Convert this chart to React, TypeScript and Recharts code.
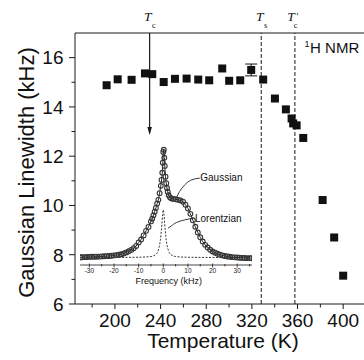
import React from 'react';
import {
  ComposedChart,
  Scatter,
  Line,
  XAxis,
  YAxis,
  ReferenceLine,
  ReferenceDot,
  ErrorBar,
  Label,
} from 'recharts';

const FONT = '"Liberation Sans", Arial, sans-serif';
const SERIF = '"Liberation Serif", "Times New Roman", serif';
const INK = '#1a1a1a';

// ---- main panel data ----
const temperatures = [
  192.7, 202.4, 214.6, 226.3, 232.7, 242.7, 252.6, 262.8, 273.0, 282.6, 294.0, 300.1,
  309.8, 319.4, 329.9, 340.2, 349.8, 354.8, 356.2, 359.2, 365.0, 382.0, 392.1, 400.0,
];
const linewidths = [
  14.88, 15.12, 15.1, 15.36, 15.33, 15.01, 15.14, 15.15, 15.11, 15.08, 15.56, 15.06,
  15.08, 15.5, 15.11, 14.34, 13.9, 13.53, 13.33, 13.25, 12.74, 10.22, 8.7, 7.15,
];
const linewidthErrors = [
  0, 0, 0, 0, 0, 0, 0, 0, 0, 0, 0, 0, 0, 0.24, 0, 0, 0, 0, 0, 0, 0, 0, 0, 0,
];
const xTickValues = [180, 200, 220, 240, 260, 280, 300, 320, 340, 360, 380, 400];
const xTickLabels = [200, 240, 280, 320, 360, 400];
const yTickValues = [6, 7, 8, 9, 10, 11, 12, 13, 14, 15, 16];
const yTickLabels = [6, 8, 10, 12, 14, 16];
const xDomain = [165, 420];
const yDomain = [6, 17];
const transitionTc = 230.4;
const transitionTs = 328.2;
const transitionTcPrime = 357.7;
const tcArrowEnd = 12.86;
const nmrLabelPos = { temp: 366.2, width: 16.19 };

// ---- inset spectrum data ----
const spectrumFreq = [
  -33.5, -33, -32, -31, -30, -29, -28, -27, -26, -25, -24, -23, -22, -21, -20, -19, -18, -17,
  -16, -15, -14, -13, -12, -11, -10, -9, -8, -7, -6, -5, -4.5, -4, -3.5, -3, -2.5, -2, -1.5,
  -1, -0.7, -0.4, -0.2, 0, 0.2, 0.4, 0.6, 0.9, 1.2, 1.5, 1.8, 2.2, 2.7, 3.2, 4, 5, 6, 7, 8, 9,
  10, 11, 12, 13, 14, 15, 16, 17, 18, 19, 20, 21, 22, 23, 24, 25, 26, 27, 28, 29, 30, 31, 32,
  33, 34, 35, 35.8,
];
const spectrumIntensity = [
  0.002, 0.002, 0.003, 0.004, 0.005, 0.006, 0.007, 0.007, 0.008, 0.01, 0.011, 0.012, 0.014,
  0.016, 0.019, 0.022, 0.025, 0.03, 0.037, 0.047, 0.057, 0.07, 0.086, 0.107, 0.14, 0.167,
  0.205, 0.247, 0.284, 0.335, 0.36, 0.391, 0.425, 0.46, 0.5, 0.535, 0.597, 0.665, 0.72, 0.786,
  0.88, 0.98, 1.0, 0.926, 0.85, 0.75, 0.69, 0.645, 0.61, 0.577, 0.558, 0.549, 0.544, 0.54,
  0.535, 0.53, 0.518, 0.49, 0.455, 0.405, 0.345, 0.285, 0.232, 0.187, 0.148, 0.117, 0.092,
  0.072, 0.056, 0.044, 0.034, 0.026, 0.019, 0.014, 0.009, 0.006, 0.003, 0.001, -0.001, -0.002,
  -0.004, -0.005, -0.006, -0.006, -0.007,
];
const lorentzFreq = [-33.8, -20, -10, -5, -3, -2, -1.5, -1, -0.6, -0.3, 0, 0.3, 0.6, 1, 1.5, 2, 3, 5, 10, 20, 36];
const lorentzIntensity = [
  0, 0, 0.002, 0.009, 0.028, 0.07, 0.116, 0.2, 0.302, 0.395, 0.442, 0.395, 0.302, 0.2, 0.116,
  0.07, 0.028, 0.009, 0.002, 0, 0,
];
const gaussLeaderFreq = [5.3, 6.6, 8.7, 11.4, 14.8];
const gaussLeaderIntensity = [0.551, 0.612, 0.674, 0.72, 0.737];
const lorLeaderFreq = [1.9, 3.25, 5.3, 8.7, 12.1];
const lorLeaderIntensity = [0.272, 0.293, 0.324, 0.349, 0.365];
const gaussTextPos = { f: 15.0, i: 0.707 };
const lorTextPos = { f: 12.85, i: 0.325 };
const insetTickValues = [-30, -25, -20, -15, -10, -5, 0, 5, 10, 15, 20, 25, 30, 35];
const insetTickLabels = [-30, -20, -10, 0, 10, 20, 30];
const insetXDomain = [-33.8, 36];
const insetYDomain = [-0.07, 1.1];

const mainData = temperatures.map((t, i) => ({ temp: t, width: linewidths[i], err: linewidthErrors[i] }));
const spectrum = spectrumFreq.map((f, i) => ({ f, i: spectrumIntensity[i] }));
const lorentz = lorentzFreq.map((f, i) => ({ f, i: lorentzIntensity[i] }));
const gaussLeader = gaussLeaderFreq.map((f, i) => ({ f, i: gaussLeaderIntensity[i] }));
const lorLeader = lorLeaderFreq.map((f, i) => ({ f, i: lorLeaderIntensity[i] }));

const MainXTick = (props: any) => {
  const { x, y, payload } = props;
  const v = payload.value;
  const major = xTickLabels.includes(v);
  return (
    <g>
      <line x1={x} x2={x} y1={y} y2={y + (major ? 5 : 3.5)} stroke={INK} strokeWidth={1} />
      {major && (
        <text x={x} y={y + 22.7} textAnchor="middle" fontSize={19} fontFamily={FONT} fill="#111">
          {v}
        </text>
      )}
    </g>
  );
};

const MainYTick = (props: any) => {
  const { x, y, payload } = props;
  const v = payload.value;
  const major = yTickLabels.includes(v);
  return (
    <g>
      <line x1={x - (major ? 6 : 3.5)} x2={x} y1={y} y2={y} stroke={INK} strokeWidth={1} />
      {major && (
        <text x={x - 11.5} y={y} dy="0.36em" textAnchor="end" fontSize={19} fontFamily={FONT} fill="#111">
          {v}
        </text>
      )}
    </g>
  );
};

const InsetTick = (props: any) => {
  const { x, y, payload } = props;
  const v = payload.value;
  const major = insetTickLabels.includes(v);
  return (
    <g>
      <line x1={x} x2={x} y1={y - (major ? 1.5 : 1)} y2={y + (major ? 2.5 : 1.5)} stroke={INK} strokeWidth={0.8} />
      {major && (
        <text x={x} y={y + 8.3} textAnchor="middle" fontSize={6.5} fontFamily={FONT} fill="#222">
          {v}
        </text>
      )}
    </g>
  );
};

const SquareShape = (p: any) => (
  <rect x={p.cx - 4} y={p.cy - 4} width={8} height={8} fill="#111" />
);

// T label drawn as a single text with tspans: italic T, optional prime, upright subscript
const makeTLabel = (sub: string, tOff: number, subDx: number, prime?: boolean) => (p: any) => (
  <text x={p.cx + tOff} y={p.cy - 12} fontFamily={SERIF} fill="#111">
    <tspan fontSize={13.5} fontStyle="italic">
      T
    </tspan>
    {prime ? (
      <>
        <tspan fontSize={10} fontStyle="italic" dx={1} dy={-1.5}>
          '
        </tspan>
        <tspan fontSize={8.5} dx={-4} dy={8.5}>
          {sub}
        </tspan>
      </>
    ) : (
      <tspan fontSize={8.5} dx={subDx} dy={7}>
        {sub}
      </tspan>
    )}
  </text>
);

const ArrowHead = (p: any) => (
  <path d={`M${p.cx - 2.3},${p.cy - 8} L${p.cx + 2.3},${p.cy - 8} L${p.cx},${p.cy} Z`} fill={INK} />
);

const NmrLabel = (p: any) => (
  <text x={p.cx} y={p.cy} fontFamily={FONT} fill="#111">
    <tspan fontSize={9} dy={-6}>
      1
    </tspan>
    <tspan fontSize={15} dy={6} dx={0.5}>
      H NMR
    </tspan>
  </text>
);

const yTitle = (props: any) => {
  const vb = props.viewBox;
  return (
    <text
      transform={`translate(${vb.x + 34},${vb.y + vb.height / 2 + 4}) rotate(-90)`}
      textAnchor="middle"
      fontSize={22}
      fontFamily={FONT}
      fill="#111"
    >
      Gaussian Linewidth (kHz)
    </text>
  );
};

const xTitle = (props: any) => {
  const vb = props.viewBox;
  return (
    <text x={vb.x + vb.width / 2 + 2.5} y={vb.y + 44} textAnchor="middle" fontSize={21} fontFamily={FONT} fill="#111">
      Temperature (K)
    </text>
  );
};

const insetXTitle = (props: any) => {
  const vb = props.viewBox;
  return (
    <text x={vb.x + vb.width / 2 + 2.7} y={vb.y + 19} textAnchor="middle" fontSize={9} fontFamily={FONT} fill="#111">
      Frequency (kHz)
    </text>
  );
};

const textShape = (label: string) => (p: any) => (
  <text x={p.cx} y={p.cy} fontSize={10} fontFamily={FONT} fill="#111">
    {label}
  </text>
);

const SpectrumDot = (p: any) => (
  <circle key={`d${p.index}`} cx={p.cx} cy={p.cy} r={2.4} fill="none" stroke="#333" strokeWidth={1.1} />
);

export default function App() {
  return (
    <div
      style={{
        position: 'absolute',
        left: 0,
        top: 0,
        width: 364,
        height: 360,
        overflow: 'hidden',
        background: '#fff',
        fontFamily: FONT,
      }}
    >
      <ComposedChart width={370} height={360} data={mainData} margin={{ top: 33, right: 4, left: 0, bottom: 0 }}>
        <XAxis
          type="number"
          dataKey="temp"
          domain={xDomain}
          ticks={xTickValues}
          interval={0}
          allowDataOverflow
          tick={<MainXTick />}
          tickLine={false}
          tickSize={0}
          tickMargin={0}
          axisLine={{ stroke: INK, strokeWidth: 1 }}
          height={56}
          label={<Label content={xTitle} />}
        />
        <YAxis
          type="number"
          dataKey="width"
          domain={yDomain}
          ticks={yTickValues}
          interval={0}
          allowDataOverflow
          tick={<MainYTick />}
          tickLine={false}
          tickSize={0}
          tickMargin={0}
          axisLine={{ stroke: INK, strokeWidth: 1 }}
          width={75}
          label={<Label content={yTitle} />}
        />
        <ReferenceLine y={17} stroke={INK} strokeWidth={1} />
        <ReferenceLine x={transitionTs} stroke={INK} strokeWidth={1} strokeDasharray="4 2" />
        <ReferenceLine x={transitionTcPrime} stroke={INK} strokeWidth={1} strokeDasharray="4 2" />
        <ReferenceLine
          segment={[
            { x: transitionTc, y: 17 },
            { x: transitionTc, y: tcArrowEnd + 0.1 },
          ]}
          stroke={INK}
          strokeWidth={1.2}
        />
        <ReferenceDot x={transitionTc} y={tcArrowEnd} r={0} ifOverflow="visible" shape={ArrowHead} />
        <ReferenceDot x={transitionTc} y={17} r={0} ifOverflow="visible" shape={makeTLabel('c', -5.7, 0.5)} />
        <ReferenceDot x={transitionTs} y={17} r={0} ifOverflow="visible" shape={makeTLabel('s', -5.3, 0.5)} />
        <ReferenceDot
          x={transitionTcPrime}
          y={17}
          r={0}
          ifOverflow="visible"
          shape={makeTLabel('c', -7.7, 0, true)}
        />
        <ReferenceDot x={nmrLabelPos.temp} y={nmrLabelPos.width} r={0} ifOverflow="visible" shape={NmrLabel} />
        <Scatter dataKey="width" shape={SquareShape} isAnimationActive={false}>
          <ErrorBar dataKey="err" direction="y" width={6} stroke="#111" strokeWidth={1} />
        </Scatter>
      </ComposedChart>

      <div style={{ position: 'absolute', left: 75, top: 134 }}>
        <ComposedChart width={182} height={156} margin={{ top: 5, right: 5, left: 5, bottom: 0 }}>
          <XAxis
            type="number"
            dataKey="f"
            domain={insetXDomain}
            ticks={insetTickValues}
            interval={0}
            allowDataOverflow
            tick={<InsetTick />}
            tickLine={false}
            tickSize={0}
            tickMargin={0}
            axisLine={{ stroke: INK, strokeWidth: 0.8 }}
            height={25}
            label={<Label content={insetXTitle} />}
          />
          <YAxis type="number" dataKey="i" hide domain={insetYDomain} allowDataOverflow />
          <Line
            data={lorentz}
            dataKey="i"
            type="monotone"
            stroke="#222"
            strokeWidth={0.9}
            strokeDasharray="2 1.5"
            dot={false}
            isAnimationActive={false}
          />
          <Line
            data={spectrum}
            dataKey="i"
            type="linear"
            stroke="#222"
            strokeWidth={1}
            dot={SpectrumDot}
            isAnimationActive={false}
          />
          <Line
            data={gaussLeader}
            dataKey="i"
            type="natural"
            stroke="#222"
            strokeWidth={0.9}
            dot={false}
            isAnimationActive={false}
          />
          <Line
            data={lorLeader}
            dataKey="i"
            type="natural"
            stroke="#222"
            strokeWidth={0.9}
            dot={false}
            isAnimationActive={false}
          />
          <ReferenceDot x={gaussTextPos.f} y={gaussTextPos.i} r={0} ifOverflow="visible" shape={textShape('Gaussian')} />
          <ReferenceDot x={lorTextPos.f} y={lorTextPos.i} r={0} ifOverflow="visible" shape={textShape('Lorentzian')} />
        </ComposedChart>
      </div>
    </div>
  );
}
